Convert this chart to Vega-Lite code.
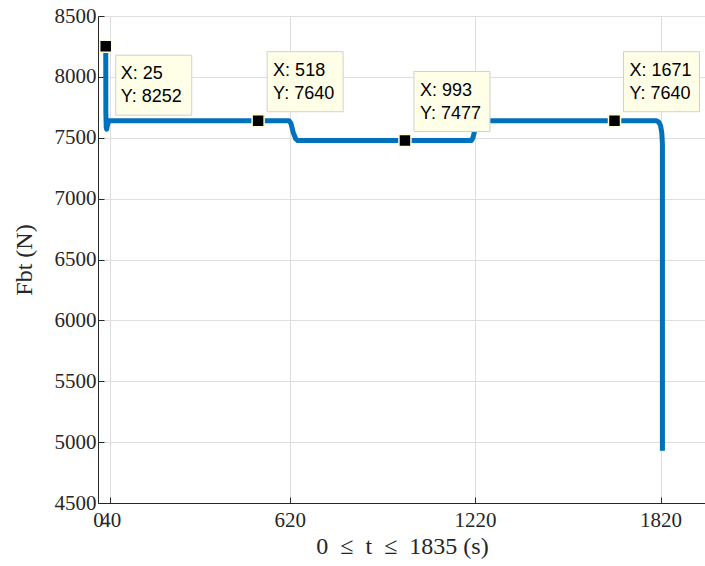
{
  "$schema": "https://vega.github.io/schema/vega-lite/v6.json",
  "width": 608,
  "height": 487,
  "autosize": {"type": "none"},
  "padding": {"left": 98, "top": 16, "right": 0, "bottom": 63},
  "background": "white",
  "config": {
    "view": {"stroke": "#262626", "strokeWidth": 1},
    "axis": {
      "gridColor": "#DEDEDE",
      "gridWidth": 1,
      "gridOpacity": 1,
      "domainColor": "#262626",
      "domainWidth": 1,
      "tickColor": "#262626",
      "tickSize": -6,
      "labelFont": "'Liberation Serif', 'Times New Roman', 'DejaVu Serif', serif",
      "labelFontSize": 21,
      "labelColor": "#262626",
      "titleFont": "'Liberation Serif', 'Times New Roman', 'DejaVu Serif', serif",
      "titleFontSize": 24,
      "titleFontWeight": "normal",
      "titleColor": "#262626",
      "labelOverlap": false,
      "labelFlush": false,
      "format": "d"
    }
  },
  "datasets": {
    "curve": [
      {"t": 25, "F": 8252},
      {"t": 25.5, "F": 7700},
      {"t": 26.5, "F": 7590},
      {"t": 28, "F": 7570},
      {"t": 31, "F": 7610},
      {"t": 34, "F": 7640},
      {"t": 618, "F": 7640},
      {"t": 624, "F": 7620},
      {"t": 632, "F": 7540},
      {"t": 640, "F": 7490},
      {"t": 646, "F": 7477},
      {"t": 1208, "F": 7477},
      {"t": 1213, "F": 7500},
      {"t": 1222, "F": 7590},
      {"t": 1228, "F": 7630},
      {"t": 1234, "F": 7640},
      {"t": 1806, "F": 7640},
      {"t": 1814, "F": 7630},
      {"t": 1820, "F": 7600},
      {"t": 1824, "F": 7540},
      {"t": 1826, "F": 7450},
      {"t": 1826, "F": 4930}
    ],
    "tips": [
      {"t": 25, "F": 8252, "label": "X: 25\nY: 8252", "side": "below"},
      {"t": 518, "F": 7640, "label": "X: 518\nY: 7640", "side": "above"},
      {"t": 993, "F": 7477, "label": "X: 993\nY: 7477", "side": "above"},
      {"t": 1671, "F": 7640, "label": "X: 1671\nY: 7640", "side": "above"}
    ]
  },
  "encoding": {
    "x": {
      "field": "t",
      "type": "quantitative",
      "scale": {"domain": [0, 1967], "nice": false, "zero": false},
      "axis": {
        "values": [0, 40, 620, 1220, 1820],
        "format": "d",
        "grid": true,
        "title": "0\u2002≤\u2002t\u2002≤\u20021835 (s)",
        "labelPadding": 12,
        "titlePadding": 4
      }
    },
    "y": {
      "field": "F",
      "type": "quantitative",
      "scale": {"domain": [4500, 8500], "nice": false, "zero": false},
      "axis": {
        "values": [4500, 5000, 5500, 6000, 6500, 7000, 7500, 8000, 8500],
        "format": "d",
        "grid": true,
        "title": "Fbt (N)",
        "labelPadding": 8,
        "titlePadding": 18
      }
    }
  },
  "layer": [
    {
      "data": {"name": "curve"},
      "mark": {"type": "line", "color": "#0072BD", "strokeWidth": 5, "strokeJoin": "round", "strokeCap": "butt", "clip": true}
    },
    {
      "data": {"name": "tips"},
      "mark": {"type": "point", "shape": "square", "size": 144, "filled": true, "fill": "black", "stroke": "#FFFFE0", "strokeWidth": 1.5, "opacity": 1}
    },
    {
      "data": {"name": "tips"},
      "transform": [{"filter": "datum.side === 'above'"}],
      "mark": {"type": "point", "shape": "M-1,-0.79L1,-0.79L1,0.79L-1,0.79Z", "size": 5776, "filled": true, "fill": "#FFFFE8", "stroke": "#D0D0D0", "strokeWidth": 1, "opacity": 1, "xOffset": 47, "yOffset": -39}
    },
    {
      "data": {"name": "tips"},
      "transform": [{"filter": "datum.side === 'below'"}],
      "mark": {"type": "point", "shape": "M-1,-0.79L1,-0.79L1,0.79L-1,0.79Z", "size": 5776, "filled": true, "fill": "#FFFFE8", "stroke": "#D0D0D0", "strokeWidth": 1, "opacity": 1, "xOffset": 48, "yOffset": 39}
    },
    {
      "data": {"name": "tips"},
      "transform": [{"filter": "datum.side === 'above'"}],
      "mark": {"type": "text", "align": "left", "baseline": "alphabetic", "dx": 15, "dy": -45, "lineBreak": "\n", "lineHeight": 23, "font": "Liberation Sans", "fontSize": 18, "color": "black"},
      "encoding": {"text": {"field": "label"}}
    },
    {
      "data": {"name": "tips"},
      "transform": [{"filter": "datum.side === 'below'"}],
      "mark": {"type": "text", "align": "left", "baseline": "alphabetic", "dx": 15, "dy": 33, "lineBreak": "\n", "lineHeight": 23, "font": "Liberation Sans", "fontSize": 18, "color": "black"},
      "encoding": {"text": {"field": "label"}}
    }
  ]
}
